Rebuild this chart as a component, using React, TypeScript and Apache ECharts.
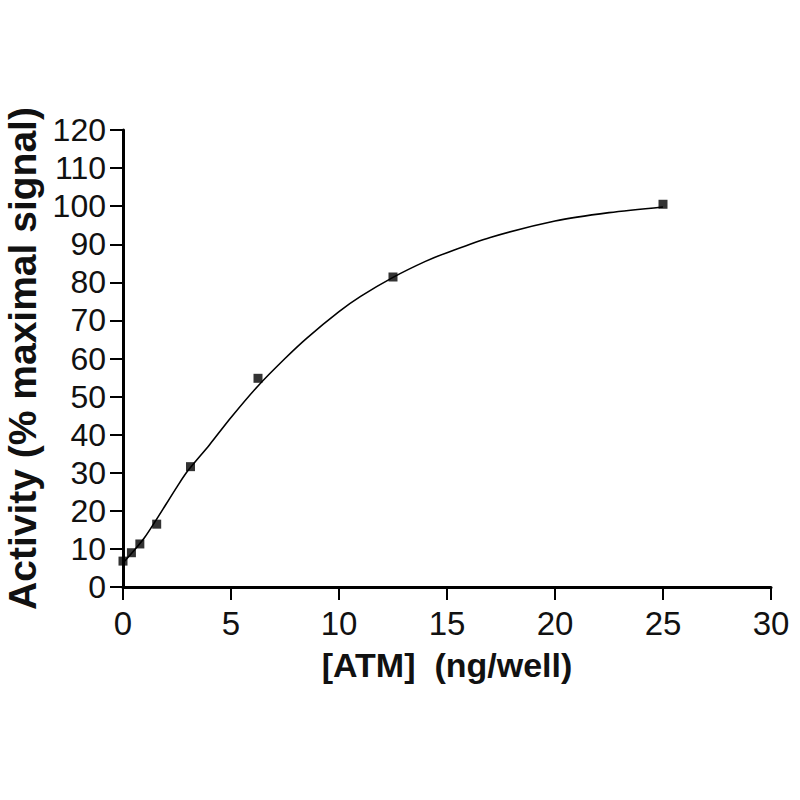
import React, { useEffect, useRef } from "react";
import * as echarts from "echarts";

const doseX = [0, 0.39, 0.78, 1.56, 3.125, 6.25, 12.5, 25];
const activityY = [6.8, 9.0, 11.3, 16.5, 31.6, 54.8, 81.4, 100.5];

const fitX = [0, 0.5, 1, 1.5, 2, 2.5, 3, 4, 5, 6.25, 7.5, 8.5, 10, 11, 12.5, 14, 15, 17, 20, 22.5, 25];
const fitY = [6.3, 9.5, 13, 17.3, 21.8, 26.3, 30.5, 37.3, 44.5, 52.8, 60, 65.3, 72.3, 76.3, 81.3, 85.5, 87.8, 91.8, 96.1, 98.3, 99.8];

const xTitle = "[ATM]  (ng/well)";
const yTitle = "Activity (% maximal signal)";

export default function App() {
  const ref = useRef<HTMLDivElement>(null);
  useEffect(() => {
    if (!ref.current) return;
    const chart = echarts.init(ref.current, undefined, { renderer: "svg" });
    const tickFont = "'Liberation Sans', Arial, sans-serif";
    chart.setOption({
      animation: false,
      backgroundColor: "#fff",
      grid: { left: 123, right: 29, top: 130, bottom: 213, containLabel: false, outerBoundsMode: "none" },
      xAxis: {
        type: "value",
        min: 0,
        max: 30,
        interval: 5,
        name: xTitle,
        nameLocation: "middle",
        nameGap: 61,
        nameTextStyle: { fontFamily: "'Liberation Sans', Arial, sans-serif", fontWeight: "bold", fontSize: 34, color: "#111" },
        axisLine: { show: true, onZero: false, lineStyle: { color: "#000", width: 3 } },
        axisTick: { show: true, inside: false, length: 13, lineStyle: { color: "#000", width: 2 } },
        axisLabel: { margin: 20, fontFamily: tickFont, fontSize: 33, color: "#111" },
        splitLine: { show: false },
      },
      yAxis: {
        type: "value",
        min: 0,
        max: 120,
        interval: 10,
        name: yTitle,
        nameLocation: "middle",
        nameGap: 72,
        nameTextStyle: { fontFamily: "'Liberation Sans', Arial, sans-serif", fontWeight: "bold", fontSize: 39, color: "#111" },
        axisLine: { show: true, onZero: false, lineStyle: { color: "#000", width: 3 } },
        axisTick: { show: true, inside: false, length: 13, lineStyle: { color: "#000", width: 2 } },
        axisLabel: { margin: 17, fontFamily: tickFont, fontSize: 32, color: "#111" },
        splitLine: { show: false },
      },
      series: [
        {
          type: "line",
          data: fitX.map((x, i) => [x, fitY[i]]),
          smooth: 0.3,
          showSymbol: false,
          lineStyle: { color: "#000", width: 1.6 },
          z: 2,
        },
        {
          type: "scatter",
          data: doseX.map((x, i) => [x, activityY[i]]),
          symbol: "rect",
          symbolSize: 9,
          itemStyle: { color: "#000" },
          z: 3,
        },
      ],
    });
    return () => chart.dispose();
  }, []);
  return (
    <div
      ref={ref}
      style={{ position: "fixed", left: 0, top: 0, width: 800, height: 800, background: "#fff" }}
    />
  );
}
